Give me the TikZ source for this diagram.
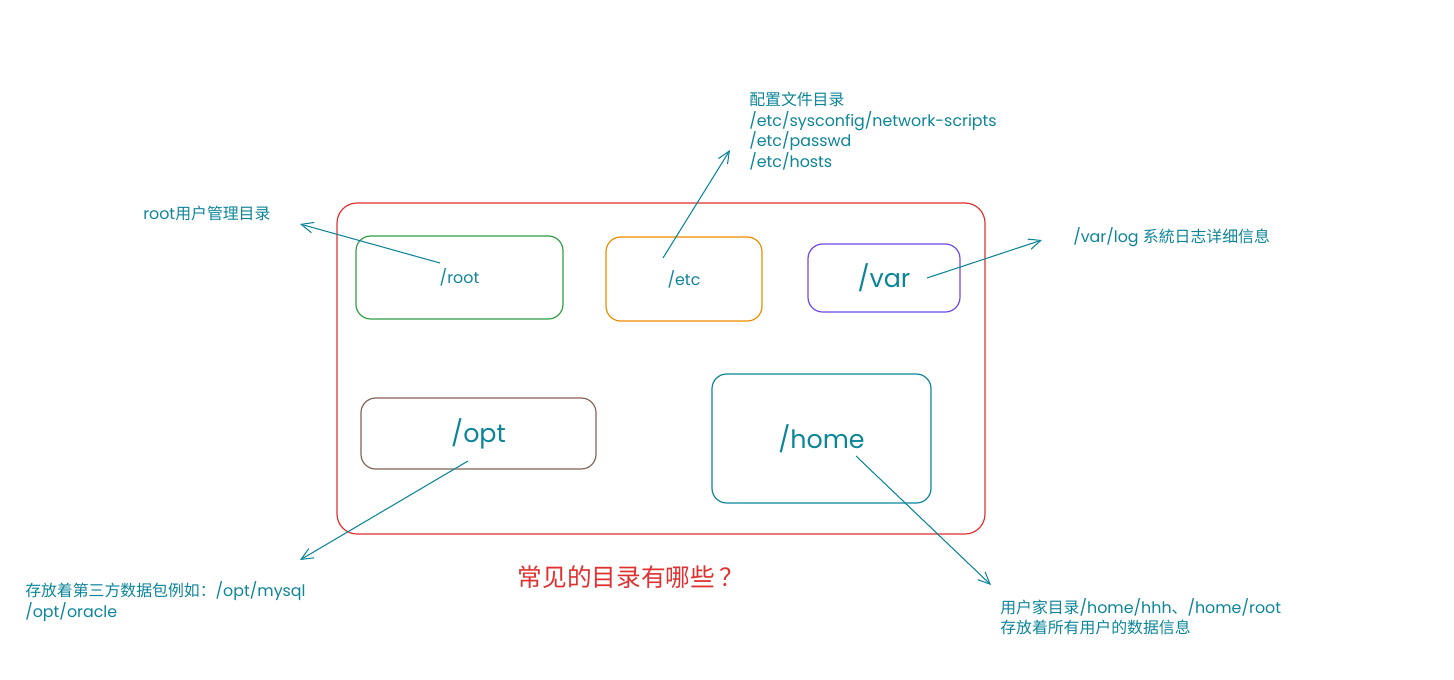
\documentclass[tikz,border=0pt]{standalone}
\usepackage{fontspec}
\setmainfont{Poppins}
\newfontfamily\cjk{Noto Sans CJK SC}
\usetikzlibrary{arrows.meta}
\definecolor{tealc}{HTML}{0C8599}
\definecolor{redc}{HTML}{E03131}
\definecolor{greenc}{HTML}{2F9E44}
\definecolor{orangec}{HTML}{F08C00}
\definecolor{purplec}{HTML}{7048E8}
\definecolor{brownc}{HTML}{846358}
\newcommand{\zh}[1]{{\cjk #1}}
\tikzset{
  dirbox/.style={draw, line width=0.9pt, rounded corners=11pt, inner sep=0pt, text=tealc},
  small/.style={font=\fontsize{11.9}{15.4}\selectfont},
  big/.style={font=\fontsize{19}{22}\selectfont},
  lbl/.style={small, text=tealc, inner sep=0pt, anchor=west, align=left},
  conn/.style={draw=tealc, line width=0.8pt, -{Straight Barb[length=9pt,width=8pt]}},
}
\begin{document}
\begin{tikzpicture}[x=0.75pt,y=-0.75pt]
\useasboundingbox (0,0) rectangle (1454,679);
% outer
\node[dirbox, draw=redc, rounded corners=15pt, minimum width=486pt, minimum height=248.25pt] (outer) at (661,368.5) {};
% dir boxes
\node[dirbox, draw=greenc, minimum width=155.25pt, minimum height=62.25pt, small] (root) at (459.5,277.5) {/root};
\node[dirbox, draw=orangec, minimum width=117pt, minimum height=63pt, small] (etc) at (684,279) {/etc};
\node[dirbox, draw=purplec, minimum width=114pt, minimum height=51pt, big] (var) at (884,278) {/var};
\node[dirbox, draw=brownc, minimum width=176.25pt, minimum height=53.25pt, big] (opt) at (478.5,433.5) {/opt};
\node[dirbox, draw=tealc, minimum width=164.25pt, minimum height=96.75pt, big] (home) at (821.5,438.5) {/home};
% labels
\node[lbl] (rootl) at (143,213) {root\zh{用户管理目录}};
\node[lbl] (etcl) at (749,131) {\zh{配置文件目录}\\/etc/sysconfig/network-scripts\\/etc/passwd\\/etc/hosts};
\node[lbl] (varl) at (1073,237) {/var/log \zh{系統日志详细信息}};
\node[lbl] (optl) at (25,601.5) {\zh{存放着第三方数据包例如：}/opt/mysql\\/opt/oracle};
\node[lbl] (homel) at (1000,616.5) {\zh{用户家目录}/home/hhh\zh{、}/home/root\\\zh{存放着所有用户的数据信息}};
\node[text=redc, inner sep=0pt, font=\cjk\fontsize{18.5}{20}\selectfont] (title) at (631,577) {常见的目录有哪些\,？};
% connector coordinates
\coordinate (rs) at (440,263); \coordinate (re) at (300,224);
\coordinate (es) at (663,258); \coordinate (ee) at (730,150);
\coordinate (vs) at (927,278); \coordinate (ve) at (1042,240);
\coordinate (os) at (468,461); \coordinate (oe) at (300,560);
\coordinate (hs) at (856,456); \coordinate (he) at (991,585);
\draw[conn] (rs) -- (re);
\draw[conn] (es) -- (ee);
\draw[conn] (vs) -- (ve);
\draw[conn] (os) -- (oe);
\draw[conn] (hs) -- (he);
\end{tikzpicture}
\end{document}
